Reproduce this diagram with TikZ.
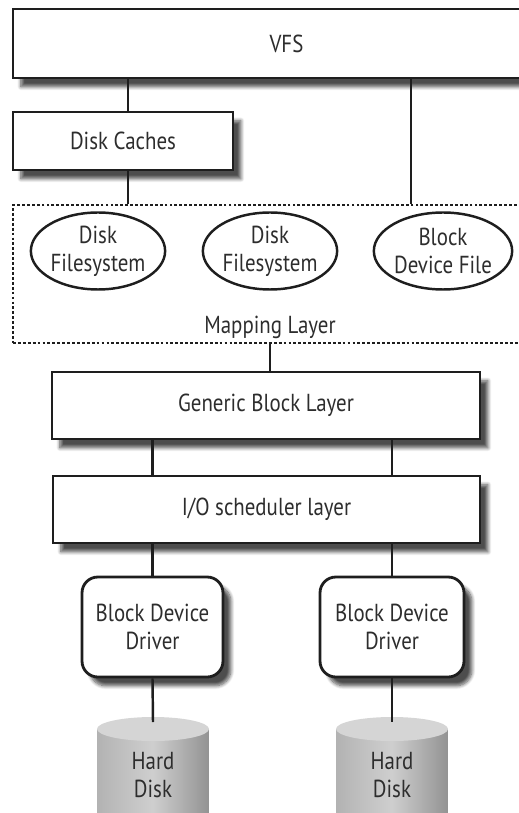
\documentclass[tikz,border=0pt]{standalone}
\usepackage{fontspec}
\setmainfont[FakeStretch=0.85]{PT Sans}
\usepackage{tikz}
\usetikzlibrary{shapes.geometric, calc, shadows.blur}
\definecolor{myink}{RGB}{30,30,30}
\definecolor{mytext}{RGB}{45,45,45}
\tikzset{
  layer/.style={rectangle, draw=myink, fill=white, line width=1.6pt, text=mytext, align=center, font=\fontsize{14}{16}\selectfont, blur shadow={shadow xshift=4.5pt, shadow yshift=-5pt, shadow blur steps=8, shadow opacity=70}},
  driver/.style={layer, rounded corners=9pt},
  fsys/.style={ellipse, draw=myink, fill=white, line width=1.4pt, text=mytext, align=center, inner sep=0pt, font=\fontsize{14}{16}\selectfont},
  maplayer/.style={rectangle, draw=myink, dash pattern=on 1.6pt off 1.2pt, line width=0.8pt},
  disk/.style={rectangle, anchor=north, left color=gray!60, right color=gray!85, middle color=gray!38, text=mytext, align=center, font=\fontsize{14}{16}\selectfont},
  diskcap/.style={fill=gray!33},
  link/.style={line width=1.4pt, color=myink}
}

\begin{document}
\begin{tikzpicture}[x=0.02cm, y=-0.02cm]
  \useasboundingbox (0,0) rectangle (519,813);
  \clip (0,0) rectangle (519,813);

  % Upper layers
  \node[layer, minimum width=10.94cm, minimum height=1.38cm] (vfs) at (286.5,43.5) {VFS};
  \node[layer, minimum width=4.4cm, minimum height=1.16cm] (caches) at (123,141) {Disk Caches};

  % Mapping Layer (dashed frame)
  \node[maplayer, minimum width=10.94cm, minimum height=2.76cm] (mapping) at (286.5,274) {};
  \node[fsys, minimum width=2.48cm, minimum height=1.54cm] (fsa) at (98,251) {Disk\\Filesystem};
  \node[fsys, minimum width=2.4cm, minimum height=1.54cm] (fsb) at (270,251) {Disk\\Filesystem};
  \node[fsys, minimum width=2.46cm, minimum height=1.54cm] (bdfile) at (443,251) {Block\\Device File};
  \node[text=mytext, font=\fontsize{14}{16}\selectfont] (maplbl) at (270,327) {Mapping Layer};

  % Block layers
  \node[layer, minimum width=8.56cm, minimum height=1.34cm] (generic) at (266,405.5) {Generic Block Layer};
  \node[layer, minimum width=8.54cm, minimum height=1.34cm] (sched) at (266.5,509.5) {I/O scheduler layer};

  % Drivers (Left / Right)
  \node[driver, minimum width=2.82cm, minimum height=2cm] (drvl) at (152.5,627) {Block Device\\Driver};
  \node[driver, minimum width=2.88cm, minimum height=2cm] (drvr) at (392,627) {Block Device\\Driver};

  % Hard disks
  \node[disk, minimum width=2.24cm, minimum height=1.84cm] (hdl) at (153,729) {Hard\\Disk};
  \fill[diskcap] (hdl.north) ellipse (1.12cm and 0.24cm);
  \node[disk, minimum width=2.24cm, minimum height=1.84cm] (hdr) at (392,729) {Hard\\Disk};
  \fill[diskcap] (hdr.north) ellipse (1.12cm and 0.24cm);

  % Connectors
  \coordinate (lcol) at (128,0);
  \coordinate (rcol) at (411,0);
  \coordinate (mcol) at (270,0);
  \draw[link] (vfs.south -| lcol) -- (caches.north -| lcol);
  \draw[link] (caches.south -| lcol) -- (mapping.north -| lcol);
  \draw[link] (vfs.south -| rcol) -- (mapping.north -| rcol);
  \draw[link] (mapping.south -| mcol) -- (generic.north -| mcol);
  \draw[link] (generic.south -| drvl) -- (sched.north -| drvl);
  \draw[link] (generic.south -| drvr) -- (sched.north -| drvr);
  \draw[link] (sched.south -| drvl) -- (drvl.north);
  \draw[link] (sched.south -| drvr) -- (drvr.north);
  \draw[link] (drvl.south) -- ($(hdl.north)+(0,-7)$);
  \draw[link] (drvr.south) -- ($(hdr.north)+(0,-7)$);
\end{tikzpicture}
\end{document}
